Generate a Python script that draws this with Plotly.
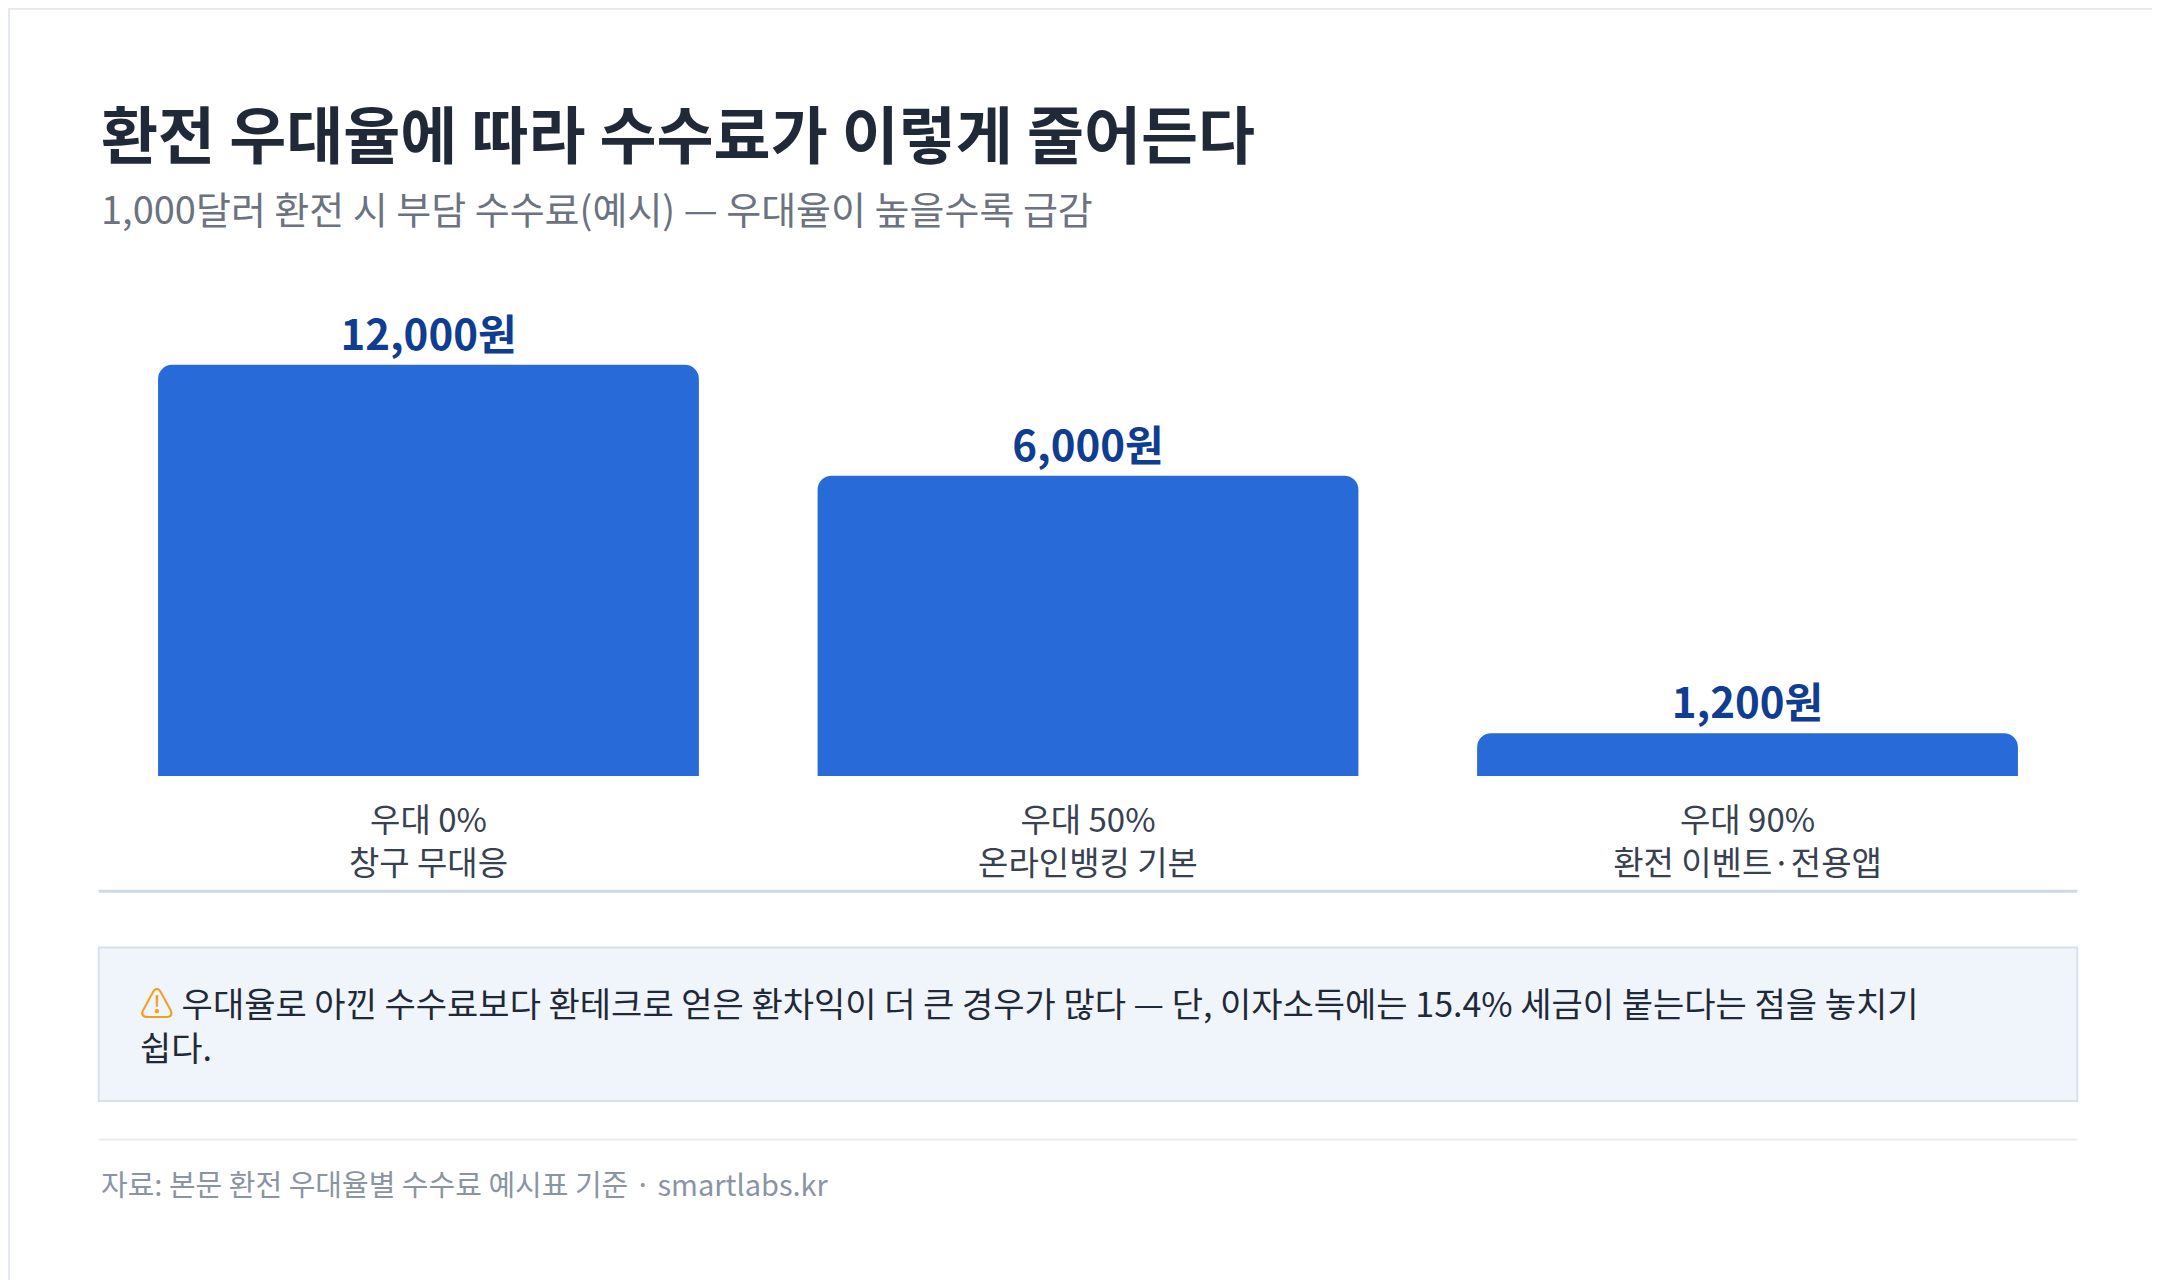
import plotly.graph_objects as go

categories = ["우대 0%<br>창구 무대응", "우대 50%<br>온라인뱅킹 기본", "우대 90%<br>환전 이벤트·전용앱"]
fees = [12000, 6000, 1200]
labels = ["<b>12,000원</b>", "<b>6,000원</b>", "<b>1,200원</b>"]

FONT = "Noto Sans CJK KR"
fig = go.Figure(go.Bar(
    x=categories, y=fees, text=labels, textposition="outside",
    textfont=dict(family=FONT, size=42, color="#0f3d91"),
    marker=dict(color="#276ad8", cornerradius=14, line=dict(width=0)),
    cliponaxis=False, hoverinfo="skip",
))
fig.update_layout(
    width=2160, height=1280, paper_bgcolor="white", plot_bgcolor="white",
    margin=dict(l=0, r=0, t=0, b=0), bargap=0.18, showlegend=False,
    font=dict(family=FONT, color="#374151"),
    xaxis=dict(domain=[0.042, 0.958], showgrid=False, showline=False, ticks="",
               ticklabelstandoff=22,
               tickfont=dict(size=33, color="#374151", family=FONT)),
    yaxis=dict(domain=[0.4, 0.8], type="log", range=[2.963, 4.353], visible=False),
)
shapes = [
    dict(type="rect", xref="paper", yref="paper", x0=0.0005, x1=0.9995, y0=0.0005, y1=0.9995,
         line=dict(color="#e3e8ef", width=2)),
    dict(type="line", xref="paper", yref="paper", x0=0.042, x1=0.958, y0=0.31, y1=0.31,
         line=dict(color="#cfd9e6", width=3)),
    dict(type="rect", xref="paper", yref="paper", x0=0.042, x1=0.958, y0=0.146, y1=0.266,
         fillcolor="#f0f5fc", line=dict(color="#d6e1ef", width=2), layer="below"),
    dict(type="line", xref="paper", yref="paper", x0=0.042, x1=0.958, y0=0.116, y1=0.116,
         line=dict(color="#e8ecf1", width=2)),
]
fig.update_layout(shapes=shapes)
ann = [
    dict(text="<b>환전 우대율에 따라 수수료가 이렇게 줄어든다</b>", x=0.042, y=0.903,
         font=dict(size=62, color="#1f2937")),
    dict(text="1,000달러 환전 시 부담 수수료(예시) — 우대율이 높을수록 급감", x=0.042, y=0.844,
         font=dict(size=38, color="#6b7280")),
    dict(text="<span style='color:#f0a020'>⚠</span> 우대율로 아낀 수수료보다 환테크로 얻은 환차익이 더 큰 경우가 많다 — 단, 이자소득에는 15.4% 세금이 붙는다는 점을 놓치기<br>쉽다.",
         x=0.06, y=0.206, font=dict(size=34, color="#1f2937")),
    dict(text="자료: 본문 환전 우대율별 수수료 예시표 기준 · smartlabs.kr", x=0.042, y=0.082,
         font=dict(size=29, color="#8a94a3")),
]
for a in ann:
    fig.add_annotation(xref="paper", yref="paper", xanchor="left", yanchor="middle",
                       showarrow=False, align="left", **a)
fig.write_html("out.html")
